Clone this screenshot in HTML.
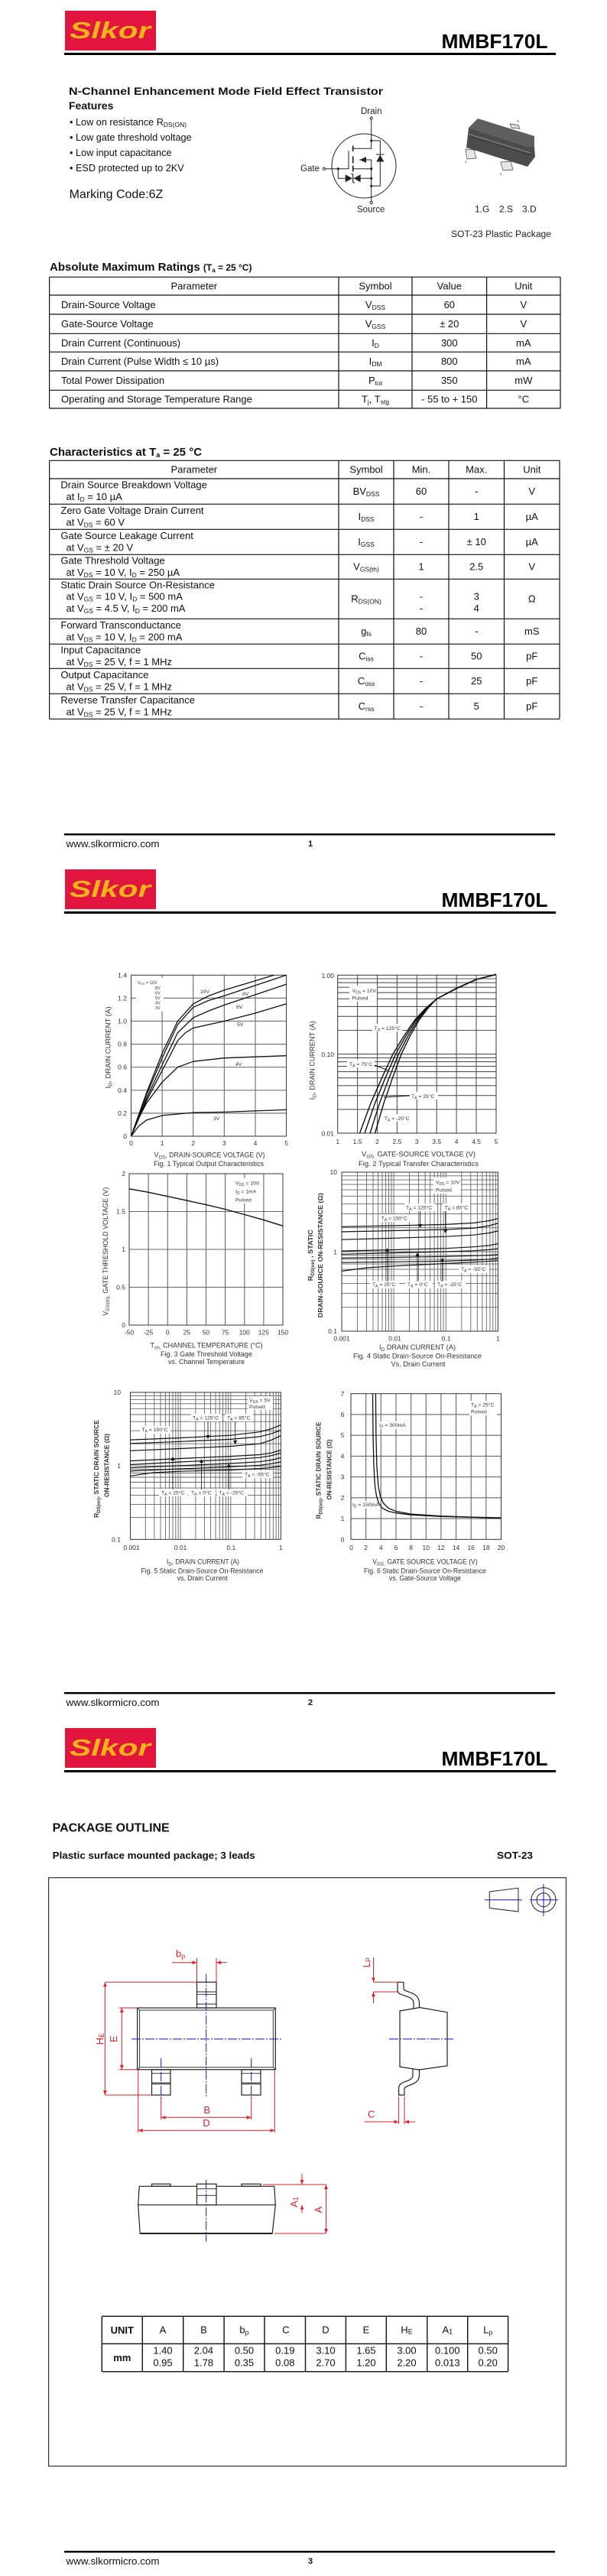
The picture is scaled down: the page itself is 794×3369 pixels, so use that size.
<!DOCTYPE html>
<html><head><meta charset="utf-8"><style>
html,body{margin:0;padding:0;background:#fff;}
svg{display:block;}
text{font-family:"Liberation Sans",Arial,sans-serif;}
.t13{font-size:13px;fill:#111;}
.tk{font-size:8.5px;fill:#333;}
.ax{font-size:9px;fill:#333;}
.an{font-size:6.8px;fill:#333;}
.yt{font-size:8.5px;font-weight:bold;fill:#333;}
.red{fill:#e32028;font-size:13px;}
</style></head><body>
<svg width="794" height="3369" viewBox="0 0 794 3369" xmlns="http://www.w3.org/2000/svg">
<defs>
<marker id="ar" viewBox="0 0 10 10" refX="10" refY="5" markerWidth="6" markerHeight="6" orient="auto-start-reverse"><path d="M0,1 L10,5 L0,9 z" fill="#e32028"/></marker>
</defs>
<rect width="794" height="3369" fill="#fff"/>

<!-- ================= PAGE HEADERS / FOOTERS ================= -->
<g>
<rect x="85" y="14" width="119" height="52" fill="#e1153d"/>
<text x="91" y="50" font-size="31" font-weight="bold" font-style="italic" fill="#f4b31b" textLength="106" lengthAdjust="spacingAndGlyphs">Slkor</text>
<text x="577.5" y="63" font-size="26" font-weight="bold" fill="#000" textLength="139" lengthAdjust="spacingAndGlyphs">MMBF170L</text>
<rect x="84" y="69" width="643" height="3" fill="#000"/>
<rect x="84" y="1090" width="642" height="2.5" fill="#000"/>
<text x="86.5" y="1108" font-size="13" fill="#111" textLength="122" lengthAdjust="spacingAndGlyphs">www.slkormicro.com</text>
<text x="403" y="1107" font-size="11" font-weight="bold" fill="#111">1</text>
</g>
<g transform="translate(0,1123)">
<rect x="85" y="14" width="119" height="52" fill="#e1153d"/>
<text x="91" y="50" font-size="31" font-weight="bold" font-style="italic" fill="#f4b31b" textLength="106" lengthAdjust="spacingAndGlyphs">Slkor</text>
<text x="577.5" y="63" font-size="26" font-weight="bold" fill="#000" textLength="139" lengthAdjust="spacingAndGlyphs">MMBF170L</text>
<rect x="84" y="69" width="643" height="3" fill="#000"/>
<rect x="84" y="1090" width="642" height="2.5" fill="#000"/>
<text x="86.5" y="1108" font-size="13" fill="#111" textLength="122" lengthAdjust="spacingAndGlyphs">www.slkormicro.com</text>
<text x="403" y="1107" font-size="11" font-weight="bold" fill="#111">2</text>
</g>
<g transform="translate(0,2246)">
<rect x="85" y="14" width="119" height="52" fill="#e1153d"/>
<text x="91" y="50" font-size="31" font-weight="bold" font-style="italic" fill="#f4b31b" textLength="106" lengthAdjust="spacingAndGlyphs">Slkor</text>
<text x="577.5" y="63" font-size="26" font-weight="bold" fill="#000" textLength="139" lengthAdjust="spacingAndGlyphs">MMBF170L</text>
<rect x="84" y="69" width="643" height="3" fill="#000"/>
<rect x="84" y="1090" width="642" height="2.5" fill="#000"/>
<text x="86.5" y="1108" font-size="13" fill="#111" textLength="122" lengthAdjust="spacingAndGlyphs">www.slkormicro.com</text>
<text x="403" y="1107" font-size="11" font-weight="bold" fill="#111">3</text>
</g>

<!-- ================= PAGE 1 ================= -->
<text x="90" y="124" font-size="14" font-weight="bold" fill="#111" textLength="411" lengthAdjust="spacingAndGlyphs">N-Channel Enhancement Mode Field Effect Transistor</text>
<text x="90" y="143" font-size="14" font-weight="bold" fill="#111">Features</text>
<g font-size="12.7" fill="#111">
<text x="91" y="164">• Low on resistance R<tspan font-size="8.5" dy="2">DS(ON)</tspan></text>
<text x="91" y="184">• Low gate threshold voltage</text>
<text x="91" y="204">• Low input capacitance</text>
<text x="91" y="224">• ESD protected up to 2KV</text>
</g>
<text x="90.6" y="259" font-size="16" fill="#111">Marking Code:6Z</text>

<!-- MOSFET symbol -->
<g font-size="11.5" fill="#222">
<text x="472" y="149">Drain</text>
<text x="393" y="224">Gate</text>
<text x="467" y="277.5">Source</text>
</g>
<g stroke="#222" stroke-width="1" fill="none">
<circle cx="476" cy="217" r="42"/>
<path d="M485.7,156 V194.3 H461.7 M485.7,209 H470 M461.7,220.7 H485.7 M485.7,209 V263.4 M485.7,184 H497.3 V243.3 H485.7 M456,197 V221 M425.6,220.7 H456 M442.3,220.7 V233.3 H451.7 M471.7,233.3 H485.7 M492,202 H502.6"/>
<path d="M461.7,190.5 V198 M461.7,204.5 V213.5 M461.7,216.5 V224.5" stroke-width="1.7"/>
<path d="M459.5,227 L461.7,228.3 V238.3 L463.9,239.6" stroke-width="1.2"/>
<circle cx="485.7" cy="154.3" r="1.6" fill="#fff"/>
<circle cx="485.7" cy="265" r="1.6" fill="#fff"/>
<circle cx="424" cy="220.7" r="1.6" fill="#fff"/>
</g>
<g fill="#222">
<polygon points="470.5,209 479,205 479,213"/>
<polygon points="497.3,202.5 492.3,211.5 502.3,211.5"/>
<polygon points="451.7,228.3 451.7,238.3 461,233.3"/>
<polygon points="471.7,228.3 471.7,238.3 462.4,233.3"/>
<circle cx="485.7" cy="184" r="1.6"/><circle cx="485.7" cy="220.7" r="1.6"/>
<circle cx="485.7" cy="233.3" r="1.6"/><circle cx="485.7" cy="243.3" r="1.6"/>
<circle cx="442.3" cy="220.7" r="1.6"/>
</g>

<!-- SOT-23 3D package -->
<g>
<polygon points="667,162 678,163.5 680,168.5 669,167" fill="#ddd" stroke="#444" stroke-width="0.7"/>
<polygon points="613,167 625,155 699,178 699,192 691,192" fill="#5e5e5e"/>
<polygon points="613,167 691,192 699,192 700,205 690,218 610,193" fill="#4c4c4c"/>
<path d="M612,175 L694,200" stroke="#9a9a9a" stroke-width="0.8"/>
<path d="M612,178 L694,203" stroke="#333" stroke-width="0.8"/>
<polygon points="609,195 620,196 623,207 611,208" fill="#e6e6e6" stroke="#444" stroke-width="0.7"/>
<polygon points="655,212 668,211 671,222 658,223" fill="#e6e6e6" stroke="#444" stroke-width="0.7"/>
<text x="608" y="213" font-size="4.5" fill="#333">1</text>
<text x="654" y="229" font-size="4.5" fill="#333">2</text>
<text x="676" y="160" font-size="4.5" fill="#333">3</text>
</g>
<g font-size="12" fill="#222">
<text x="621" y="277.3">1.G</text><text x="653" y="277.3">2.S</text><text x="683" y="277.3">3.D</text>
</g>
<text x="590" y="310" font-size="11.5" fill="#222" textLength="131" lengthAdjust="spacingAndGlyphs">SOT-23 Plastic Package</text>

<!-- Absolute Maximum Ratings -->
<text x="65" y="354" font-size="15" font-weight="bold" fill="#111">Absolute Maximum Ratings <tspan font-size="12">(T</tspan><tspan font-size="8" dy="2">a</tspan><tspan font-size="12" dy="-2"> = 25 °C)</tspan></text>
<g stroke="#111" stroke-width="1.2">
<path d="M64.6,362.3 H733 M64.6,386 H733 M64.6,411 H733 M64.6,436.3 H733 M64.6,460.3 H733 M64.6,485 H733 M64.6,510.3 H733 M64.6,534 H733"/>
<path d="M64.6,362.3 V534 M443,362.3 V534 M539,362.3 V534 M636.6,362.3 V534 M733,362.3 V534"/>
</g>
<g class="t13" text-anchor="middle">
<text x="253.8" y="378.5">Parameter</text><text x="491" y="378.5">Symbol</text><text x="587.8" y="378.5">Value</text><text x="684.8" y="378.5">Unit</text>
<text x="491" y="403">V<tspan font-size="8.5" dy="2">DSS</tspan></text><text x="587.8" y="403">60</text><text x="684.8" y="403">V</text>
<text x="491" y="428">V<tspan font-size="8.5" dy="2">GSS</tspan></text><text x="587.8" y="428">± 20</text><text x="684.8" y="428">V</text>
<text x="491" y="452.8">I<tspan font-size="8.5" dy="2">D</tspan></text><text x="587.8" y="452.8">300</text><text x="684.8" y="452.8">mA</text>
<text x="491" y="477">I<tspan font-size="8.5" dy="2">DM</tspan></text><text x="587.8" y="477">800</text><text x="684.8" y="477">mA</text>
<text x="491" y="502">P<tspan font-size="8.5" dy="2">tot</tspan></text><text x="587.8" y="502">350</text><text x="684.8" y="502">mW</text>
<text x="491" y="526.5">T<tspan font-size="8.5" dy="2">j</tspan><tspan dy="-2">, T</tspan><tspan font-size="8.5" dy="2">stg</tspan></text><text x="587.8" y="526.5">- 55 to + 150</text><text x="684.8" y="526.5">°C</text>
</g>
<g class="t13">
<text x="80" y="403">Drain-Source Voltage</text>
<text x="80" y="428">Gate-Source Voltage</text>
<text x="80" y="452.8">Drain Current (Continuous)</text>
<text x="80" y="477">Drain Current (Pulse Width ≤ 10 µs)</text>
<text x="80" y="502">Total Power Dissipation</text>
<text x="80" y="526.5">Operating and Storage Temperature Range</text>
</g>

<!-- Characteristics -->
<text x="65" y="596" font-size="15" font-weight="bold" fill="#111">Characteristics at T<tspan font-size="9" dy="2">a</tspan><tspan dy="-2"> = 25 °C</tspan></text>
<g stroke="#111" stroke-width="1.2">
<path d="M64.6,602.3 H732 M64.6,626 H732 M64.6,659.3 H732 M64.6,692.3 H732 M64.6,725.3 H732 M64.6,757.3 H732 M64.6,809.3 H732 M64.6,842.3 H732 M64.6,874.3 H732 M64.6,907.3 H732 M64.6,940.3 H732"/>
<path d="M64.6,602.3 V940.3 M443,602.3 V940.3 M515,602.3 V940.3 M587,602.3 V940.3 M659.5,602.3 V940.3 M732,602.3 V940.3"/>
</g>
<g class="t13" text-anchor="middle">
<text x="253.8" y="618.5">Parameter</text><text x="479" y="618.5">Symbol</text><text x="551" y="618.5">Min.</text><text x="623.25" y="618.5">Max.</text><text x="695.75" y="618.5">Unit</text>
<text x="479" y="647">BV<tspan font-size="8.5" dy="2">DSS</tspan></text><text x="551" y="647">60</text><text x="623.25" y="647">-</text><text x="695.75" y="647">V</text>
<text x="479" y="680">I<tspan font-size="8.5" dy="2">DSS</tspan></text><text x="551" y="680">-</text><text x="623.25" y="680">1</text><text x="695.75" y="680">µA</text>
<text x="479" y="713">I<tspan font-size="8.5" dy="2">GSS</tspan></text><text x="551" y="713">-</text><text x="623.25" y="713">± 10</text><text x="695.75" y="713">µA</text>
<text x="479" y="745.5">V<tspan font-size="8.5" dy="2">GS(th)</tspan></text><text x="551" y="745.5">1</text><text x="623.25" y="745.5">2.5</text><text x="695.75" y="745.5">V</text>
<text x="479" y="787.5">R<tspan font-size="8.5" dy="2">DS(ON)</tspan></text><text x="551" y="784.3">-</text><text x="551" y="800">-</text><text x="623.25" y="784.3">3</text><text x="623.25" y="800">4</text><text x="695.75" y="787.5">Ω</text>
<text x="479" y="830">g<tspan font-size="8.5" dy="2">fs</tspan></text><text x="551" y="830">80</text><text x="623.25" y="830">-</text><text x="695.75" y="830">mS</text>
<text x="479" y="862.5">C<tspan font-size="8.5" dy="2">iss</tspan></text><text x="551" y="862.5">-</text><text x="623.25" y="862.5">50</text><text x="695.75" y="862.5">pF</text>
<text x="479" y="895">C<tspan font-size="8.5" dy="2">oss</tspan></text><text x="551" y="895">-</text><text x="623.25" y="895">25</text><text x="695.75" y="895">pF</text>
<text x="479" y="928">C<tspan font-size="8.5" dy="2">rss</tspan></text><text x="551" y="928">-</text><text x="623.25" y="928">5</text><text x="695.75" y="928">pF</text>
</g>
<g class="t13">
<text x="79.4" y="638.5">Drain Source Breakdown Voltage</text>
<text x="86.5" y="654">at I<tspan font-size="8.5" dy="2">D</tspan><tspan dy="-2"> = 10 µA</tspan></text>
<text x="79.4" y="671.8">Zero Gate Voltage Drain Current</text>
<text x="86.5" y="687.3">at V<tspan font-size="8.5" dy="2">DS</tspan><tspan dy="-2"> = 60 V</tspan></text>
<text x="79.4" y="704.8">Gate Source Leakage Current</text>
<text x="86.5" y="720.3">at V<tspan font-size="8.5" dy="2">GS</tspan><tspan dy="-2"> = ± 20 V</tspan></text>
<text x="79.4" y="737.6">Gate Threshold Voltage</text>
<text x="86.5" y="753">at V<tspan font-size="8.5" dy="2">DS</tspan><tspan dy="-2"> = 10 V, I</tspan><tspan font-size="8.5" dy="2">D</tspan><tspan dy="-2"> = 250 µA</tspan></text>
<text x="79.4" y="769.3">Static Drain Source On-Resistance</text>
<text x="86.5" y="784.3">at V<tspan font-size="8.5" dy="2">GS</tspan><tspan dy="-2"> = 10 V, I</tspan><tspan font-size="8.5" dy="2">D</tspan><tspan dy="-2"> = 500 mA</tspan></text>
<text x="86.5" y="800">at V<tspan font-size="8.5" dy="2">GS</tspan><tspan dy="-2"> = 4.5 V, I</tspan><tspan font-size="8.5" dy="2">D</tspan><tspan dy="-2"> = 200 mA</tspan></text>
<text x="79.4" y="821.8">Forward Transconductance</text>
<text x="86.5" y="837.3">at V<tspan font-size="8.5" dy="2">DS</tspan><tspan dy="-2"> = 10 V, I</tspan><tspan font-size="8.5" dy="2">D</tspan><tspan dy="-2"> = 200 mA</tspan></text>
<text x="79.4" y="854.6">Input Capacitance</text>
<text x="86.5" y="870">at V<tspan font-size="8.5" dy="2">DS</tspan><tspan dy="-2"> = 25 V, f = 1 MHz</tspan></text>
<text x="79.4" y="886.8">Output Capacitance</text>
<text x="86.5" y="902.3">at V<tspan font-size="8.5" dy="2">DS</tspan><tspan dy="-2"> = 25 V, f = 1 MHz</tspan></text>
<text x="79.4" y="919.8">Reverse Transfer Capacitance</text>
<text x="86.5" y="935.3">at V<tspan font-size="8.5" dy="2">DS</tspan><tspan dy="-2"> = 25 V, f = 1 MHz</tspan></text>
</g>

<!-- ================= PAGE 2 CHARTS ================= -->
<!-- Chart 1 -->
<g stroke="#777" stroke-width="1.2" fill="none">
<path d="M212.1,1275.3 V1486 M252.7,1275.3 V1486 M293.4,1275.3 V1486 M334,1275.3 V1486"/>
<path d="M171.5,1455.9 H374.6 M171.5,1425.8 H374.6 M171.5,1395.7 H374.6 M171.5,1365.6 H374.6 M171.5,1335.5 H374.6 M171.5,1305.4 H374.6"/>
</g>
<rect x="171.5" y="1275.3" width="203.1" height="210.7" fill="none" stroke="#333" stroke-width="1"/>
<rect x="178" y="1279" width="36" height="44" fill="#fff"/>
<g class="an" font-size="5.5">
<text x="180" y="1287" font-size="5.5">V<tspan font-size="4" dy="1">GS</tspan><tspan dy="-1"> = 10V</tspan></text>
<text x="203" y="1294" font-size="5.5">8V</text><text x="203" y="1300.5" font-size="5.5">6V</text>
<text x="203" y="1307" font-size="5.5">5V</text><text x="203" y="1313.5" font-size="5.5">4V</text><text x="203" y="1320" font-size="5.5">3V</text>
</g>
<g stroke="#111" stroke-width="1.3" fill="none">
<polyline points="171.5,1486 191.8,1428.8 212.1,1377.6 232.4,1335.5 252.7,1312.9 273.1,1302.4 293.4,1294.9 334,1282.8 358.4,1275.3"/>
<polyline points="171.5,1486 191.8,1431.8 212.1,1383.7 232.4,1340 252.7,1317.4 273.1,1308.4 293.4,1302.4 334,1288.8 374.6,1275.3"/>
<polyline points="171.5,1486 191.8,1436.3 212.1,1392.7 232.4,1350.6 252.7,1331 273.1,1322 293.4,1314.4 334,1300.9 374.6,1287.3"/>
<polyline points="171.5,1486 191.8,1439.3 212.1,1400.2 232.4,1361.1 242.6,1350.6 252.7,1344.5 293.4,1335.5 334,1325 374.6,1312.9"/>
<polyline points="171.5,1486 181.7,1461.9 191.8,1442.4 212.1,1415.3 232.4,1395.7 252.7,1388.2 293.4,1383.7 374.6,1380.7"/>
<polyline points="171.5,1486 181.7,1472.5 191.8,1464.9 212.1,1458.9 252.7,1455.1 293.4,1454.4 374.6,1451.4"/>
</g>
<g class="an" font-size="7.5">
<text x="262" y="1299">10V</text><text x="317" y="1302">8V</text><text x="309" y="1319">6V</text>
<text x="310" y="1342">5V</text><text x="308" y="1394">4V</text><text x="279" y="1465">3V</text>
</g>
<g class="tk" text-anchor="end">
<text x="166" y="1278.5">1.4</text><text x="166" y="1308.5">1.2</text><text x="166" y="1338.5">1.0</text><text x="166" y="1368.5">0.8</text>
<text x="166" y="1398.5">0.6</text><text x="166" y="1429">0.4</text><text x="166" y="1459">0.2</text><text x="166" y="1489">0</text>
</g>
<g class="tk" text-anchor="middle">
<text x="171.5" y="1498">0</text><text x="212.1" y="1498">1</text><text x="252.7" y="1498">2</text><text x="293.4" y="1498">3</text><text x="334" y="1498">4</text><text x="374.6" y="1498">5</text>
</g>
<text class="ax" x="274" y="1513.3" text-anchor="middle" textLength="145" lengthAdjust="spacingAndGlyphs">V<tspan font-size="6.5" dy="2">DS</tspan><tspan dy="-2">, DRAIN-SOURCE VOLTAGE (V)</tspan></text>
<text class="ax" x="273" y="1525" text-anchor="middle" textLength="144" lengthAdjust="spacingAndGlyphs">Fig. 1  Typical Output Characteristics</text>
<text class="ax" transform="translate(144.5,1370) rotate(-90)" text-anchor="middle" textLength="107" lengthAdjust="spacingAndGlyphs">I<tspan font-size="6.5" dy="2">D</tspan><tspan dy="-2">, DRAIN CURRENT (A)</tspan></text>

<!-- Chart 2 -->
<g stroke="#555" stroke-width="1.1" fill="none">
<path d="M467.6,1275.3 V1482 M493.5,1275.3 V1482 M519.4,1275.3 V1482 M545.3,1275.3 V1482 M571.2,1275.3 V1482 M597.1,1275.3 V1482 M623,1275.3 V1482"/>
<path d="M441.7,1450.9 H649 M441.7,1432.7 H649 M441.7,1419.8 H649 M441.7,1409.7 H649 M441.7,1401.6 H649 M441.7,1394.6 H649 M441.7,1388.6 H649 M441.7,1383.4 H649 M441.7,1378.6 H649 M441.7,1347.5 H649 M441.7,1329.3 H649 M441.7,1316.4 H649 M441.7,1306.3 H649 M441.7,1298.2 H649 M441.7,1291.2 H649 M441.7,1285.2 H649 M441.7,1280 H649"/>
</g>
<rect x="441.7" y="1275.3" width="207.3" height="206.7" fill="none" stroke="#333" stroke-width="1"/>
<g fill="#fff">
<rect x="457" y="1289" width="36" height="21"/><rect x="487" y="1339" width="39" height="10"/>
<rect x="454" y="1386" width="36" height="10"/><rect x="536" y="1428" width="37" height="10"/><rect x="500" y="1457" width="40" height="10"/>
</g>
<g stroke="#111" stroke-width="1.4" fill="none">
<polyline points="470.55,1482 485,1442.8 499.45,1409.8 513.9,1378.7 528.35,1354.9 542.5,1334.1 556.75,1318.7 571.2,1306.4 597.6,1292.6 623.5,1281 648.9,1274.4"/>
<polyline points="477.05,1482 490.5,1442.8 504,1409.8 517.5,1378.7 530.95,1354.9 544.3,1334.1 557.7,1318.7 571.2,1306.4 597.3,1292.6 623.2,1281 648.9,1274.4"/>
<polyline points="484.05,1482 496.5,1442.8 508.9,1409.8 521.3,1378.7 533.75,1354.9 546.3,1334.1 558.8,1318.7 571.2,1306.4 596.9,1292.6 622.8,1281 648.9,1274.4"/>
<polyline points="490.55,1482 502,1442.8 513.45,1409.8 524.9,1378.7 536.35,1354.9 548.1,1334.1 559.75,1318.7 571.2,1306.4 596.6,1292.6 622.5,1281 648.9,1274.4"/>
</g>
<path d="M490,1393 L508,1400 M536,1433 L502,1435" stroke="#111" stroke-width="1"/>
<g class="an">
<text x="460.6" y="1298">V<tspan font-size="5" dy="1.5">DS</tspan><tspan dy="-1.5"> = 10V</tspan></text><text x="460.6" y="1307.5">Pulsed</text>
<text x="489.6" y="1347">T<tspan font-size="5" dy="1.5">A</tspan><tspan dy="-1.5"> = 125°C</tspan></text>
<text x="457" y="1394">T<tspan font-size="5" dy="1.5">A</tspan><tspan dy="-1.5"> = 75°C</tspan></text>
<text x="538" y="1436">T<tspan font-size="5" dy="1.5">A</tspan><tspan dy="-1.5"> = 25°C</tspan></text>
<text x="502.8" y="1465">T<tspan font-size="5" dy="1.5">A</tspan><tspan dy="-1.5"> = -25°C</tspan></text>
</g>
<g class="tk" text-anchor="end">
<text x="437" y="1279">1.00</text><text x="437" y="1382">0.10</text><text x="437" y="1485.5">0.01</text>
</g>
<g class="tk" text-anchor="middle">
<text x="441.7" y="1496">1</text><text x="467.6" y="1496">1.5</text><text x="493.5" y="1496">2</text><text x="519.4" y="1496">2.5</text><text x="545.3" y="1496">3</text>
<text x="571.2" y="1496">3.5</text><text x="597.1" y="1496">4</text><text x="623" y="1496">4.5</text><text x="649" y="1496">5</text>
</g>
<text class="ax" x="547.5" y="1512.7" text-anchor="middle" textLength="149" lengthAdjust="spacingAndGlyphs">V<tspan font-size="6.5" dy="2">GS,</tspan><tspan dy="-2"> GATE-SOURCE VOLTAGE (V)</tspan></text>
<text class="ax" x="547.5" y="1525" text-anchor="middle" textLength="157" lengthAdjust="spacingAndGlyphs">Fig. 2  Typical Transfer Characteristics</text>
<text class="ax" transform="translate(411.5,1386.7) rotate(-90)" text-anchor="middle" textLength="103" lengthAdjust="spacingAndGlyphs">I<tspan font-size="6.5" dy="2">D</tspan><tspan dy="-2">, DRAIN CURRENT (A)</tspan></text>

<!-- Chart 3 -->
<g stroke="#666" stroke-width="1.1" fill="none">
<path d="M194.1,1535 V1733 M219.3,1535 V1733 M244.4,1535 V1733 M269.5,1535 V1733 M294.6,1535 V1733 M319.8,1535 V1733 M344.9,1535 V1733"/>
<path d="M169,1683.5 H370 M169,1634 H370 M169,1584.5 H370"/>
</g>
<rect x="169" y="1535" width="201" height="198" fill="none" stroke="#333" stroke-width="1"/>
<rect x="305" y="1541" width="36" height="33" fill="#fff"/>
<g class="an">
<text x="308" y="1549.5">V<tspan font-size="5" dy="1.5">DS</tspan><tspan dy="-1.5"> = 10V</tspan></text>
<text x="308" y="1560.5">I<tspan font-size="5" dy="1.5">D</tspan><tspan dy="-1.5"> = 1mA</tspan></text>
<text x="308" y="1571.5">Pulsed</text>
</g>
<polyline points="169,1554.8 194.1,1559.3 219.3,1564.7 244.4,1570.1 269.5,1575.6 294.6,1581.5 319.8,1588.5 344.9,1595.4 370,1603.3" fill="none" stroke="#111" stroke-width="1.4"/>
<g class="tk" text-anchor="end">
<text x="164" y="1538">2</text><text x="164" y="1587.5">1.5</text><text x="164" y="1637">1</text><text x="164" y="1686.5">0.5</text><text x="164" y="1736">0</text>
</g>
<g class="tk" text-anchor="middle">
<text x="169" y="1745.5">-50</text><text x="194.1" y="1745.5">-25</text><text x="219.3" y="1745.5">0</text><text x="244.4" y="1745.5">25</text><text x="269.5" y="1745.5">50</text>
<text x="294.6" y="1745.5">75</text><text x="319.8" y="1745.5">100</text><text x="344.9" y="1745.5">125</text><text x="370" y="1745.5">150</text>
</g>
<text class="ax" x="270" y="1762.3" text-anchor="middle" textLength="147" lengthAdjust="spacingAndGlyphs">T<tspan font-size="6.5" dy="2">ch,</tspan><tspan dy="-2"> CHANNEL TEMPERATURE (°C)</tspan></text>
<text class="ax" x="270" y="1774" text-anchor="middle" textLength="120" lengthAdjust="spacingAndGlyphs">Fig. 3  Gate Threshold Voltage</text>
<text class="ax" x="270" y="1784" text-anchor="middle" textLength="100" lengthAdjust="spacingAndGlyphs">vs. Channel Temperature</text>
<text class="ax" transform="translate(141,1636.7) rotate(-90)" text-anchor="middle" textLength="168" lengthAdjust="spacingAndGlyphs">V<tspan font-size="6.5" dy="2">GS(th),</tspan><tspan dy="-2"> GATE THRESHOLD VOLTAGE (V)</tspan></text>

<!-- Chart 4 -->
<g stroke="#666" stroke-width="0.9" fill="none">
<path d="M467.5,1533 V1741 M479.5,1533 V1741 M488,1533 V1741 M494.6,1533 V1741 M500,1533 V1741 M504.6,1533 V1741 M508.5,1533 V1741 M512,1533 V1741 M515.1,1533 V1741 M535.6,1533 V1741 M547.6,1533 V1741 M556.1,1533 V1741 M562.7,1533 V1741 M568.1,1533 V1741 M572.7,1533 V1741 M576.6,1533 V1741 M580.1,1533 V1741 M583.3,1533 V1741 M603.8,1533 V1741 M615.8,1533 V1741 M624.3,1533 V1741 M630.9,1533 V1741 M636.3,1533 V1741 M640.9,1533 V1741 M644.8,1533 V1741 M648.3,1533 V1741"/>
<path d="M447,1709.7 H651.4 M447,1691.4 H651.4 M447,1678.4 H651.4 M447,1668.3 H651.4 M447,1660.1 H651.4 M447,1653.1 H651.4 M447,1647.1 H651.4 M447,1641.8 H651.4 M447,1637 H651.4 M447,1605.7 H651.4 M447,1587.4 H651.4 M447,1574.4 H651.4 M447,1564.3 H651.4 M447,1556.1 H651.4 M447,1549.1 H651.4 M447,1543.1 H651.4 M447,1537.8 H651.4"/>
</g>
<rect x="447" y="1533" width="204.4" height="208" fill="none" stroke="#333" stroke-width="1"/>
<g fill="#fff">
<rect x="567" y="1540" width="36" height="21"/><rect x="529" y="1574" width="40" height="10"/><rect x="579" y="1574" width="36" height="10"/>
<rect x="496" y="1588" width="40" height="10"/><rect x="600" y="1655" width="40" height="10"/>
<rect x="484" y="1675" width="38" height="10"/><rect x="530" y="1675" width="36" height="10"/><rect x="569" y="1675" width="40" height="10"/>
</g>
<g stroke="#111" stroke-width="1.2" fill="none">
<polyline points="447,1604.3 515,1603 583,1601.4 620,1599.4 640,1596.5 651,1593.8"/>
<polyline points="447,1611 515,1609.5 583,1608 620,1606.1 640,1603 651,1600"/>
<polyline points="447,1621.2 515,1619.3 583,1617.2 620,1615.2 640,1612.5 651,1610"/>
<polyline points="447,1636.1 515,1634.5 583,1632.7 620,1630.7 640,1628.8 651,1626.6"/>
<polyline points="447,1640.3 515,1638.6 583,1637 620,1635.7 640,1634.4 651,1633.1"/>
<polyline points="447,1645.4 515,1644.4 583,1643.3 620,1642.3 640,1641.6 651,1640.8"/>
<polyline points="447,1651.2 515,1650.3 583,1649.4 620,1648 640,1646.8 651,1645.4"/>
<polyline points="447,1662.4 480,1658 515,1655.8 583,1652.5 620,1650.6 651,1648.8"/>
</g>
<g stroke="#111" stroke-width="0.8">
<path d="M549.6,1584 V1601 M582.7,1584 V1608 M506.4,1637 V1676 M546,1643 V1676 M578.6,1650 V1676"/>
</g>
<g fill="#111">
<polygon points="547,1601 552.2,1601 549.6,1606"/><polygon points="580.1,1608 585.3,1608 582.7,1613"/>
<polygon points="503.8,1637 509,1637 506.4,1632"/><polygon points="543.4,1643 548.6,1643 546,1638"/><polygon points="576,1650 581.2,1650 578.6,1645"/>
</g>
<g class="an">
<text x="570" y="1548.5">V<tspan font-size="5" dy="1.5">DS</tspan><tspan dy="-1.5"> = 10V</tspan></text><text x="570" y="1558.5">Pulsed</text>
<text x="531" y="1581.5">T<tspan font-size="5" dy="1.5">A</tspan><tspan dy="-1.5"> = 125°C</tspan></text>
<text x="581.7" y="1581.5">T<tspan font-size="5" dy="1.5">A</tspan><tspan dy="-1.5"> = 85°C</tspan></text>
<text x="498.7" y="1595.5">T<tspan font-size="5" dy="1.5">A</tspan><tspan dy="-1.5"> = 150°C</tspan></text>
<text x="603" y="1662">T<tspan font-size="5" dy="1.5">A</tspan><tspan dy="-1.5"> = -55°C</tspan></text>
<text x="487" y="1682">T<tspan font-size="5" dy="1.5">A</tspan><tspan dy="-1.5"> = 25°C</tspan></text>
<text x="533" y="1682">T<tspan font-size="5" dy="1.5">A</tspan><tspan dy="-1.5"> = 0°C</tspan></text>
<text x="572" y="1682">T<tspan font-size="5" dy="1.5">A</tspan><tspan dy="-1.5"> = -25°C</tspan></text>
</g>
<g class="tk" text-anchor="end">
<text x="441" y="1536">10</text><text x="441" y="1640.5">1</text><text x="441" y="1744">0.1</text>
</g>
<g class="tk" text-anchor="middle">
<text x="447" y="1753.5">0.001</text><text x="516.5" y="1753.5">0.01</text><text x="583.7" y="1753.5">0.1</text><text x="651.4" y="1753.5">1</text>
</g>
<text class="ax" x="546" y="1765" text-anchor="middle" textLength="100" lengthAdjust="spacingAndGlyphs">I<tspan font-size="6.5" dy="2">D</tspan><tspan dy="-2"> DRAIN CURRENT (A)</tspan></text>
<text class="ax" x="546" y="1776.7" text-anchor="middle" textLength="168" lengthAdjust="spacingAndGlyphs">Fig. 4 Static Drain-Source On-Resistance</text>
<text class="ax" x="547" y="1787" text-anchor="middle" textLength="71" lengthAdjust="spacingAndGlyphs">Vs. Drain Current</text>
<text class="yt" transform="translate(409,1641.7) rotate(-90)" text-anchor="middle" textLength="67" lengthAdjust="spacingAndGlyphs">R<tspan font-size="6" dy="2">DS(on)</tspan><tspan dy="-2"> , STATIC</tspan></text>
<text class="yt" transform="translate(422,1641.7) rotate(-90)" text-anchor="middle" textLength="163" lengthAdjust="spacingAndGlyphs">DRAIN-SOURCE ON-RESISTANCE (Ω)</text>

<!-- Chart 5 -->
<g stroke="#666" stroke-width="0.9" fill="none">
<path d="M190.3,1821 V2013.3 M201.8,1821 V2013.3 M210,1821 V2013.3 M216.4,1821 V2013.3 M221.6,1821 V2013.3 M226,1821 V2013.3 M229.8,1821 V2013.3 M233.1,1821 V2013.3 M236.1,1821 V2013.3 M255.9,1821 V2013.3 M267.4,1821 V2013.3 M275.6,1821 V2013.3 M282,1821 V2013.3 M287.2,1821 V2013.3 M291.6,1821 V2013.3 M295.4,1821 V2013.3 M298.7,1821 V2013.3 M301.8,1821 V2013.3 M321.6,1821 V2013.3 M333.1,1821 V2013.3 M341.3,1821 V2013.3 M347.7,1821 V2013.3 M352.9,1821 V2013.3 M357.3,1821 V2013.3 M361.1,1821 V2013.3 M364.4,1821 V2013.3"/>
<path d="M170.5,1984.4 H367.4 M170.5,1967.4 H367.4 M170.5,1955.4 H367.4 M170.5,1946.1 H367.4 M170.5,1938.5 H367.4 M170.5,1932 H367.4 M170.5,1926.5 H367.4 M170.5,1921.6 H367.4 M170.5,1917.15 H367.4 M170.5,1888.2 H367.4 M170.5,1871.2 H367.4 M170.5,1859.2 H367.4 M170.5,1850 H367.4 M170.5,1842.3 H367.4 M170.5,1835.8 H367.4 M170.5,1830.3 H367.4 M170.5,1825.4 H367.4"/>
</g>
<rect x="170.5" y="1821" width="196.9" height="192.3" fill="none" stroke="#333" stroke-width="1"/>
<g fill="#fff">
<rect x="324" y="1826" width="33" height="18"/><rect x="250" y="1849" width="40" height="10"/><rect x="295" y="1849" width="36" height="10"/>
<rect x="183" y="1865" width="40" height="10"/><rect x="317" y="1923" width="40" height="10"/>
<rect x="208" y="1947" width="38" height="10"/><rect x="247" y="1947" width="35" height="10"/><rect x="284" y="1947" width="40" height="10"/>
</g>
<g stroke="#111" stroke-width="1.2" fill="none">
<polyline points="170.5,1883.1 236,1880.5 301.8,1877.2 340,1872.7 355,1868.6 367.4,1863.7"/>
<polyline points="170.5,1887.8 236,1885.3 301.8,1882.4 340,1878.9 355,1874.9 367.4,1870.5"/>
<polyline points="170.5,1897.3 236,1894.5 301.8,1891.5 340,1888.2 355,1883.3 367.4,1877.7"/>
<polyline points="170.5,1910.6 236,1907.5 301.8,1904.6 340,1902.5 355,1900.2 367.4,1896.5"/>
<polyline points="170.5,1915.5 236,1912 301.8,1908.8 340,1906.2 355,1903.7 367.4,1900.5"/>
<polyline points="170.5,1919.7 236,1916.8 301.8,1914 340,1911.7 355,1909.5 367.4,1906.5"/>
<polyline points="170.5,1923.9 236,1921 301.8,1918.4 340,1916.3 355,1914.3 367.4,1912"/>
<polyline points="170.5,1930.3 200,1926 236,1924.2 301.8,1922.5 340,1920.6 355,1919.3 367.4,1917.6"/>
</g>
<g stroke="#111" stroke-width="0.8">
<path d="M272,1859 V1877 M307.7,1859 V1884 M226,1910 V1948 M263.5,1913 V1948 M299.2,1919 V1948"/>
</g>
<g fill="#111">
<polygon points="269.4,1877 274.6,1877 272,1882"/><polygon points="305.1,1884 310.3,1884 307.7,1889"/>
<polygon points="223.4,1910 228.6,1910 226,1905"/><polygon points="260.9,1913 266.1,1913 263.5,1908"/><polygon points="296.6,1919 301.8,1919 299.2,1914"/>
</g>
<g class="an">
<text x="326" y="1833.5">V<tspan font-size="5" dy="1.5">GS</tspan><tspan dy="-1.5"> = 5V</tspan></text><text x="326" y="1842">Pulsed</text>
<text x="252" y="1856.5">T<tspan font-size="5" dy="1.5">A</tspan><tspan dy="-1.5"> = 125°C</tspan></text>
<text x="297" y="1856.5">T<tspan font-size="5" dy="1.5">A</tspan><tspan dy="-1.5"> = 85°C</tspan></text>
<text x="185.4" y="1872">T<tspan font-size="5" dy="1.5">A</tspan><tspan dy="-1.5"> = 150°C</tspan></text>
<text x="320" y="1930.5">T<tspan font-size="5" dy="1.5">A</tspan><tspan dy="-1.5"> = -55°C</tspan></text>
<text x="211" y="1954.5">T<tspan font-size="5" dy="1.5">A</tspan><tspan dy="-1.5"> = 25°C</tspan></text>
<text x="250" y="1954.5">T<tspan font-size="5" dy="1.5">A</tspan><tspan dy="-1.5"> = 0°C</tspan></text>
<text x="286.5" y="1954.5">T<tspan font-size="5" dy="1.5">A</tspan><tspan dy="-1.5"> = -25°C</tspan></text>
</g>
<g class="tk" text-anchor="end">
<text x="158" y="1824">10</text><text x="158" y="1920">1</text><text x="158" y="2016.5">0.1</text>
</g>
<g class="tk" text-anchor="middle">
<text x="172" y="2027">0.001</text><text x="236.1" y="2027">0.01</text><text x="302.3" y="2027">0.1</text><text x="367.4" y="2027">1</text>
</g>
<text class="ax" x="265.5" y="2045.7" text-anchor="middle" textLength="95" lengthAdjust="spacingAndGlyphs">I<tspan font-size="6.5" dy="2">D</tspan><tspan dy="-2">, DRAIN CURRENT (A)</tspan></text>
<text class="ax" x="264.4" y="2057.3" text-anchor="middle" textLength="160" lengthAdjust="spacingAndGlyphs">Fig. 5  Static Drain-Source On-Resistance</text>
<text class="ax" x="264.6" y="2067" text-anchor="middle" textLength="66" lengthAdjust="spacingAndGlyphs">vs. Drain Current</text>
<text class="yt" transform="translate(129,1921) rotate(-90)" text-anchor="middle" textLength="128" lengthAdjust="spacingAndGlyphs">R<tspan font-size="6" dy="2">DS(on)</tspan><tspan dy="-2">, STATIC DRAIN SOURCE</tspan></text>
<text class="yt" transform="translate(142.5,1916.5) rotate(-90)" text-anchor="middle" textLength="83" lengthAdjust="spacingAndGlyphs">ON-RESISTANCE (Ω)</text>

<!-- Chart 6 -->
<g stroke="#666" stroke-width="1.1" fill="none">
<path d="M478.65,1822.7 V2013.3 M498.3,1822.7 V2013.3 M517.95,1822.7 V2013.3 M537.6,1822.7 V2013.3 M557.25,1822.7 V2013.3 M576.9,1822.7 V2013.3 M596.55,1822.7 V2013.3 M616.2,1822.7 V2013.3 M635.85,1822.7 V2013.3"/>
<path d="M459,1986.1 H655.5 M459,1958.8 H655.5 M459,1931.6 H655.5 M459,1904.4 H655.5 M459,1877.2 H655.5 M459,1849.9 H655.5"/>
</g>
<rect x="459" y="1822.7" width="196.5" height="190.6" fill="none" stroke="#333" stroke-width="1"/>
<g fill="#fff">
<rect x="614" y="1832" width="36" height="19"/><rect x="495" y="1859" width="38" height="10"/><rect x="460" y="1963" width="36" height="10"/>
</g>
<g stroke="#111" stroke-width="1.3" fill="none">
<polyline points="487.5,1822.7 488,1877.2 489,1918 490.4,1942.5 492.4,1956.1 495.3,1965.6 500.2,1972.5 508.1,1976.5 517.9,1978.7 537.6,1981.2 576.8,1983.3 616.1,1984.2 655.4,1985"/>
<polyline points="491.4,1822.7 491.9,1877.2 492.9,1918 494.8,1942.5 497.3,1956.1 501.2,1965.6 508.1,1972.5 517.9,1976.5 537.6,1980.1 576.8,1982.8 616.1,1984.2 655.4,1985.6"/>
</g>
<g class="an">
<text x="616" y="1839.5">T<tspan font-size="5" dy="1.5">A</tspan><tspan dy="-1.5"> = 25°C</tspan></text><text x="616" y="1848.5">Pulsed</text>
<text x="496" y="1866">I<tspan font-size="5" dy="1.5">D</tspan><tspan dy="-1.5"> = 300mA</tspan></text>
<text x="461" y="1970">I<tspan font-size="5" dy="1.5">D</tspan><tspan dy="-1.5"> = 150mA</tspan></text>
</g>
<g class="tk" text-anchor="middle">
<text x="448" y="1826">7</text><text x="448" y="1853">6</text><text x="448" y="1880.2">5</text><text x="448" y="1907.4">4</text>
<text x="448" y="1934.6">3</text><text x="448" y="1961.8">2</text><text x="448" y="1989">1</text><text x="448" y="2016.3">0</text>
<text x="459.5" y="2027">0</text><text x="478.65" y="2027">2</text><text x="498.3" y="2027">4</text><text x="517.95" y="2027">6</text><text x="537.6" y="2027">8</text>
<text x="557.25" y="2027">10</text><text x="576.9" y="2027">12</text><text x="596.55" y="2027">14</text><text x="616.2" y="2027">16</text><text x="635.85" y="2027">18</text><text x="655.5" y="2027">20</text>
</g>
<text class="ax" x="556" y="2045.7" text-anchor="middle" textLength="137.5" lengthAdjust="spacingAndGlyphs">V<tspan font-size="6.5" dy="2">GS,</tspan><tspan dy="-2"> GATE SOURCE VOLTAGE (V)</tspan></text>
<text class="ax" x="556" y="2057.3" text-anchor="middle" textLength="160" lengthAdjust="spacingAndGlyphs">Fig. 6  Static Drain-Source On-Resistance</text>
<text class="ax" x="556" y="2067" text-anchor="middle" textLength="94" lengthAdjust="spacingAndGlyphs">vs. Gate-Source Voltage</text>
<text class="yt" transform="translate(419.4,1923) rotate(-90)" text-anchor="middle" textLength="127" lengthAdjust="spacingAndGlyphs">R<tspan font-size="6" dy="2">DS(on)</tspan><tspan dy="-2">, STATIC DRAIN SOURCE</tspan></text>
<text class="yt" transform="translate(433.6,1922) rotate(-90)" text-anchor="middle" textLength="79" lengthAdjust="spacingAndGlyphs">ON-RESISTANCE (Ω)</text>

<!-- ================= PAGE 3 ================= -->
<text x="68.7" y="2395.3" font-size="15.5" font-weight="bold" fill="#111" textLength="153" lengthAdjust="spacingAndGlyphs">PACKAGE OUTLINE</text>
<text x="68.7" y="2431" font-size="12.5" font-weight="bold" fill="#111" textLength="265" lengthAdjust="spacingAndGlyphs">Plastic surface mounted package; 3 leads</text>
<text x="650" y="2431" font-size="12.5" font-weight="bold" fill="#111" textLength="47" lengthAdjust="spacingAndGlyphs">SOT-23</text>
<rect x="63.6" y="2455.7" width="676.9" height="769.6" fill="none" stroke="#333" stroke-width="1.2"/>

<!-- projection symbol -->
<polygon points="640.3,2474 678,2469.3 678,2500 640.3,2495.5" fill="none" stroke="#222" stroke-width="1"/>
<circle cx="711" cy="2484.7" r="16" fill="none" stroke="#222" stroke-width="1"/>
<circle cx="711" cy="2484.7" r="9" fill="none" stroke="#222" stroke-width="1"/>
<g stroke="#1515c0" stroke-width="1">
<path d="M634,2484.7 H683 M693,2484.7 H730 M711,2464 V2506"/>
</g>

<!-- top view -->
<g stroke="#222" stroke-width="1.2" fill="none">
<rect x="179.6" y="2626" width="180.7" height="80.7"/>
<rect x="182.6" y="2629" width="174.7" height="74.7" stroke-width="0.9"/>
<path d="M179.6,2626 L182.6,2629 M360.3,2626 L357.3,2629 M179.6,2706.7 L182.6,2703.7 M360.3,2706.7 L357.3,2703.7" stroke-width="0.8"/>
<rect x="257.5" y="2592.3" width="25.5" height="33.7"/>
<path d="M257.5,2605 H283 M257.5,2608.3 H283 M257.5,2621 H283" stroke-width="0.9"/>
<rect x="198.5" y="2706.7" width="24.5" height="33.3"/>
<rect x="316" y="2706.7" width="25" height="33.3"/>
<path d="M198.5,2711.7 H223 M198.5,2724 H223 M198.5,2725.5 H223 M316,2711.7 H341 M316,2724 H341 M316,2725.5 H341" stroke-width="0.9"/>
</g>
<g stroke="#1515c0" stroke-width="1" stroke-dasharray="12,2,2,2" fill="none">
<path d="M269.7,2581.7 V2743 M172,2666.7 H368 M210.7,2691.7 V2745 M328.7,2691.7 V2745"/>
</g>
<g stroke="#e32028" stroke-width="1" fill="none">
<path d="M225,2566.7 H257.5" marker-end="url(#ar)"/>
<path d="M296.7,2566.7 H283" marker-end="url(#ar)"/>
<path d="M257.5,2561 V2592 M283,2561 V2592"/>
<path d="M137.4,2592.3 V2740" marker-start="url(#ar)" marker-end="url(#ar)"/>
<path d="M137.4,2592.3 H257 M137.4,2740 H198"/>
<path d="M159.3,2626 V2706.7" marker-start="url(#ar)" marker-end="url(#ar)"/>
<path d="M156,2626 H179.6 M156,2706.7 H179.6"/>
<path d="M210.7,2769.3 H328.7" marker-start="url(#ar)" marker-end="url(#ar)"/>
<path d="M210.7,2742 V2772 M328.7,2742 V2772"/>
<path d="M180.7,2786.3 H359.3" marker-start="url(#ar)" marker-end="url(#ar)"/>
<path d="M180.7,2706.7 V2789 M359.3,2706.7 V2789"/>
</g>
<text class="red" x="230" y="2559.3">b<tspan font-size="9" dy="2">p</tspan></text>
<text class="red" transform="translate(135,2666.5) rotate(-90)" text-anchor="middle">H<tspan font-size="9" dy="1">E</tspan></text>
<text class="red" transform="translate(153,2666.7) rotate(-90)" text-anchor="middle">E</text>
<text class="red" x="270.7" y="2764" text-anchor="middle">B</text>
<text class="red" x="270" y="2781" text-anchor="middle">D</text>

<!-- side view -->
<g stroke="#222" stroke-width="1.2" fill="none">
<polygon points="523,2630 549,2625.5 585,2631.7 585,2701.7 548,2707 523,2703"/>
<path d="M520,2592.3 H528 M520,2592.3 V2603 C520,2612 541,2608 541,2620 V2627 M528,2592.3 V2601 C528,2606 548.5,2604 548.5,2620 V2626"/>
<path d="M540,2706 V2714 C540,2724 521.6,2720 521.6,2731 V2740 H529 V2732 C529,2726 548.5,2728 548.5,2714 V2706"/>
</g>
<path d="M509,2666.7 H593" stroke="#1515c0" stroke-width="1" stroke-dasharray="12,2,2,2"/>
<g stroke="#e32028" stroke-width="1" fill="none">
<path d="M488.5,2560 V2592.3" marker-end="url(#ar)"/>
<path d="M488.5,2620 V2605" marker-end="url(#ar)"/>
<path d="M488.5,2592.3 H520 M488.5,2605 H520"/>
<path d="M477,2775 H521.6" marker-end="url(#ar)"/>
<path d="M543,2775 H529" marker-end="url(#ar)"/>
<path d="M521.6,2742 V2778 M529,2742 V2778"/>
</g>
<text class="red" transform="translate(484,2566.7) rotate(-90)" text-anchor="middle">L<tspan font-size="9" dy="1">P</tspan></text>
<text class="red" x="481" y="2769.3">C</text>

<!-- front view -->
<g stroke="#222" stroke-width="1.2" fill="none">
<polygon points="182.2,2859.3 358.8,2859.3 360.3,2883.7 356.2,2921 183.2,2921 180.7,2883.7"/>
<path d="M180.7,2883.7 H360.3"/>
<path d="M183.2,2921 H356.2" stroke-width="2"/>
<rect x="198.5" y="2856.3" width="24.5" height="3"/>
<rect x="316" y="2856.3" width="25" height="3"/>
<rect x="257.5" y="2856.3" width="25.5" height="27.4" fill="#fff"/>
<path d="M257.5,2862.7 H283 M257.5,2871.3 H283" stroke-width="0.9"/>
</g>
<path d="M269.7,2850.7 V2931.7" stroke="#1515c0" stroke-width="1" stroke-dasharray="12,2,2,2"/>
<g stroke="#e32028" stroke-width="1" fill="none">
<path d="M395,2842.7 V2857" marker-end="url(#ar)"/>
<path d="M395,2894 V2883.7" marker-end="url(#ar)"/>
<path d="M343.5,2857 H426.5"/>
<path d="M426.5,2857 V2921" marker-start="url(#ar)" marker-end="url(#ar)"/>
<path d="M358.8,2921 H426.5"/>
</g>
<text class="red" transform="translate(389,2880) rotate(-90)" text-anchor="middle">A<tspan font-size="9" dy="1">1</tspan></text>
<text class="red" transform="translate(421,2890) rotate(-90)" text-anchor="middle">A</text>

<!-- dimension table -->
<g stroke="#111" stroke-width="1.4" fill="none">
<path d="M133.3,3029.3 H664.6 M133.3,3065.3 H664.6 M133.3,3101.7 H664.6"/>
<path d="M133.3,3029.3 V3101.7 M186.3,3029.3 V3101.7 M239.7,3029.3 V3101.7 M293.1,3029.3 V3101.7 M346,3029.3 V3101.7 M399.5,3029.3 V3101.7 M452.4,3029.3 V3101.7 M505.3,3029.3 V3101.7 M558.8,3029.3 V3101.7 M611.7,3029.3 V3101.7 M664.6,3029.3 V3101.7"/>
</g>
<g class="t13" text-anchor="middle">
<text x="159.8" y="3052" font-weight="bold">UNIT</text>
<text x="213" y="3051.5">A</text><text x="266.4" y="3051.5">B</text>
<text x="319.5" y="3051.5">b<tspan font-size="9" dy="2">p</tspan></text>
<text x="374" y="3051.5">C</text><text x="426" y="3051.5">D</text><text x="479" y="3051.5">E</text>
<text x="532" y="3051.5">H<tspan font-size="9" dy="1">E</tspan></text>
<text x="585.3" y="3051.5">A<tspan font-size="9" dy="1">1</tspan></text>
<text x="638.2" y="3051.5">L<tspan font-size="9" dy="2">p</tspan></text>
<text x="159.8" y="3088" font-weight="bold">mm</text>
<text x="213" y="3078.3">1.40</text><text x="213" y="3094.3">0.95</text>
<text x="266.4" y="3078.3">2.04</text><text x="266.4" y="3094.3">1.78</text>
<text x="319.5" y="3078.3">0.50</text><text x="319.5" y="3094.3">0.35</text>
<text x="372.8" y="3078.3">0.19</text><text x="372.8" y="3094.3">0.08</text>
<text x="426" y="3078.3">3.10</text><text x="426" y="3094.3">2.70</text>
<text x="479" y="3078.3">1.65</text><text x="479" y="3094.3">1.20</text>
<text x="532" y="3078.3">3.00</text><text x="532" y="3094.3">2.20</text>
<text x="585.3" y="3078.3">0.100</text><text x="585.3" y="3094.3">0.013</text>
<text x="638.2" y="3078.3">0.50</text><text x="638.2" y="3094.3">0.20</text>
</g>
</svg>
</body></html>
